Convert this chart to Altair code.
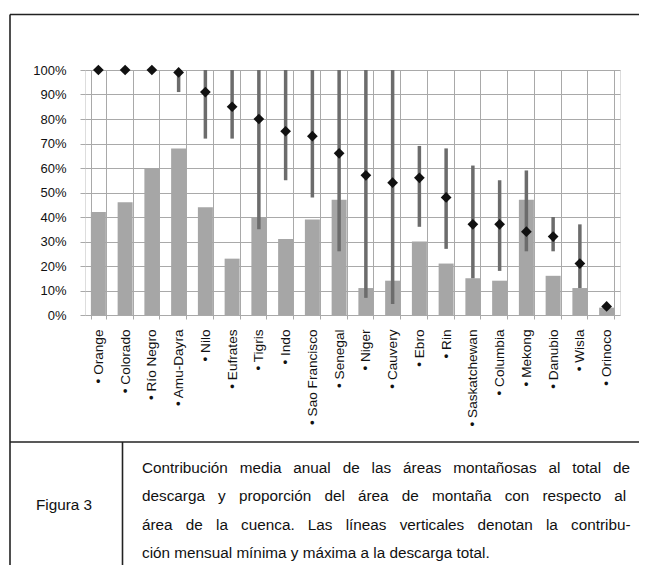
import altair as alt
import pandas as pd

rivers = ["Orange", "Colorado", "Río Negro", "Amu-Dayra", "Nilo", "Eufrates", "Tigris",
          "Indo", "Sao Francisco", "Senegal", "Niger", "Cauvery", "Ebro", "Rin",
          "Saskatchewan", "Columbia", "Mekong", "Danubio", "Wisla", "Orinoco"]
area_pct = [42, 46, 60, 68, 44, 23, 40, 31, 39, 47, 11, 14, 30, 21, 15, 14, 47, 16, 11, 3]
mean_pct = [100, 100, 100, 99, 91, 85, 80, 75, 73, 66, 57, 54, 56, 48, 37, 37, 34, 32, 21, 3.5]
min_pct = [None, None, None, 91, 72, 72, 35, 55, 48, 26, 7, 4.5, 36, 27, 15, 18, 26, 26, 11, None]
max_pct = [None, None, None, 100, 100, 100, 100, 100, 100, 100, 100, 100, 69, 68, 61, 55, 59, 40, 37, None]
y_ticks = [0, 10, 20, 30, 40, 50, 60, 70, 80, 90, 100]

fig_label = "Figura 3"
EN = "\u2002"
HAIR = "\u200a"
caption_lines = [
    ("Contribución media anual de las áreas montañosas al total de", " " + EN),
    ("descarga y proporción del área de montaña con respecto al", " " + EN + HAIR),
    ("área de la cuenca. Las líneas verticales denotan la contribu-", " " + EN + HAIR),
    ("ción mensual mínima y máxima a la descarga total.", " "),
]
# justified lines: widen the word gaps
caption_text = [line.replace(" ", gap) for line, gap in caption_lines]

df = pd.DataFrame({"river": rivers, "area": area_pct, "mean": mean_pct,
                   "min": min_pct, "max": max_pct})

FONT = "Liberation Sans"
GRID = "#a9a9a9"

x_axis = alt.Axis(title=None, labelAngle=270, labelAlign="right", labelBaseline="middle",
                  labelExpr="datum.label ? '• ' + datum.label : ''", labelFont=FONT,
                  labelFontSize=13.6, labelColor="#111", labelPadding=10, tickBand="extent",
                  grid=True, gridColor=GRID, gridWidth=1, ticks=True, tickSize=4,
                  tickColor=GRID, domain=False, labelOverlap=False)
y_axis = alt.Axis(title=None, values=y_ticks, labelExpr="datum.value + '%'", labelFont=FONT,
                  labelFontSize=13, labelColor="#111", labelPadding=14, grid=True,
                  gridColor=GRID, gridWidth=1, tickSize=5, tickColor=GRID, domain=False,
                  labelOverlap=False)
x_scale = alt.Scale(paddingInner=0.44, paddingOuter=0.22)
y_scale = alt.Scale(domain=[0, 100], nice=False)


def X():
    return alt.X("river:N", sort=rivers, scale=x_scale, axis=x_axis)


def Y(field):
    return alt.Y(f"{field}:Q", scale=y_scale, axis=y_axis)


bars = alt.Chart(df).mark_bar(color="#a6a6a6").encode(x=X(), y=Y("area"))

ranges = alt.Chart(df).transform_filter("isValid(datum.min)").mark_rule(
    color="#6c6c6c", strokeWidth=3.5).encode(x=X(), y=Y("min"), y2="max:Q")

points = alt.Chart(df).mark_point(shape="diamond", filled=True, color="#111111",
                                  size=115, opacity=1).encode(x=X(), y=Y("mean"))

one = pd.DataFrame({"k": [0]})
line_style = dict(color="#222222", strokeWidth=1.6)
top_border = alt.Chart(one).mark_rule(**line_style).encode(
    x=alt.value(-75), x2=alt.value(554), y=alt.value(-55.5))
left_border = alt.Chart(one).mark_rule(**line_style).encode(
    x=alt.value(-75), y=alt.value(-55.5), y2=alt.value(500))
mid_border = alt.Chart(one).mark_rule(**line_style).encode(
    x=alt.value(-75), x2=alt.value(554), y=alt.value(372))
div_border = alt.Chart(one).mark_rule(**line_style).encode(
    x=alt.value(37.5), y=alt.value(372), y2=alt.value(500))

fig_text = alt.Chart(one).mark_text(text=fig_label, font=FONT, fontSize=15.3, color="#111",
                                    align="center", baseline="middle").encode(
    x=alt.value(-21), y=alt.value(435))
cap_text = alt.Chart(one).mark_text(text=caption_text, font=FONT, fontSize=15.3, color="#111",
                                    align="left", baseline="middle", lineHeight=28.3).encode(
    x=alt.value(57), y=alt.value(398))

chart = alt.layer(bars, ranges, points, top_border, left_border, mid_border, div_border,
                  fig_text, cap_text).properties(
    width=535, height=245,
    autosize=alt.AutoSizeParams(type="none"),
    padding={"left": 77, "top": 62, "right": 19, "bottom": 250},
).configure_view(stroke=GRID, strokeWidth=1).configure(background="white")

chart.save("out.html", embed_options={"renderer": "svg", "actions": False})
